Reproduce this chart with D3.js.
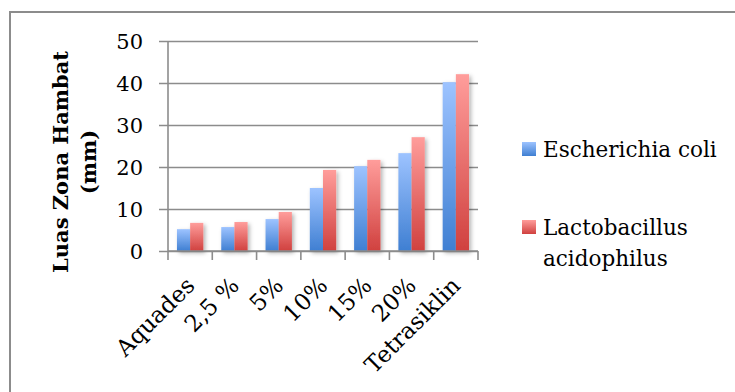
<!DOCTYPE html>
<html>
<head>
<meta charset="utf-8">
<script src="https://cdn.jsdelivr.net/npm/d3@7"></script>
<style>
  html, body { margin: 0; padding: 0; background: #fff; }
  svg { display: block; }
  text { font-family: "DejaVu Serif", serif; fill: #000; }
</style>
</head>
<body>
<svg id="chart" width="735" height="392"></svg>
<script>
// Data
const categories = ["Aquades", "2,5 %", "5%", "10%", "15%", "20%", "Tetrasiklin"];
const seriesNames = ["Escherichia coli", "Lactobacillus acidophilus"];
const ecoli = [5.2, 5.7, 7.6, 15.0, 20.2, 23.3, 40.2];
const lacto = [6.7, 6.9, 9.3, 19.3, 21.7, 27.1, 42.1];
const yTicks = [0, 10, 20, 30, 40, 50];
const yTitle = ["Luas Zona Hambat", "(mm)"];

const svg = d3.select("#chart");
const W = 735, H = 392;

// Outer chart border
svg.append("rect")
  .attr("x", 10).attr("y", 12)
  .attr("width", W + 10).attr("height", H + 10)
  .attr("fill", "#fff").attr("stroke", "#8c8c8c").attr("stroke-width", 2);

const plot = { left: 168, right: 478, top: 41, bottom: 251 };

const x = d3.scaleBand().domain(categories)
  .range([plot.left, plot.right]).paddingInner(0).paddingOuter(0);
const xs = d3.scaleBand().domain(seriesNames)
  .range([0, x.bandwidth()]).paddingInner(0).paddingOuter(0.68);
const y = d3.scaleLinear().domain([0, 50]).range([plot.bottom, plot.top]);

const defs = svg.append("defs");
function grad(id, top, bottom) {
  const g = defs.append("linearGradient").attr("id", id)
    .attr("x1", 0).attr("y1", 0).attr("x2", 0).attr("y2", 1);
  g.append("stop").attr("offset", "0%").attr("stop-color", top);
  g.append("stop").attr("offset", "100%").attr("stop-color", bottom);
}
grad("gBlue", "#9dc3ff", "#3f7fd2");
grad("gRed", "#ff9d9b", "#d0413f");
const shadow = defs.append("filter").attr("id", "shadow")
  .attr("x", "-50%").attr("y", "-20%").attr("width", "200%").attr("height", "150%");
shadow.append("feDropShadow").attr("dx", 2).attr("dy", 2)
  .attr("stdDeviation", 2).attr("flood-color", "#000").attr("flood-opacity", 0.3);

// Gridlines and value axis
const yAxis = svg.append("g")
  .attr("transform", `translate(${plot.left},0)`)
  .call(d3.axisLeft(y).tickValues(yTicks).tickSize(-(plot.right - plot.left)).tickSizeOuter(0).tickPadding(25));
yAxis.select(".domain").remove();
yAxis.selectAll(".tick line")
  .attr("x1", -9).attr("stroke", "#8c8c8c").attr("stroke-width", 1.6);
yAxis.selectAll(".tick text")
  .style("font-family", "DejaVu Serif").attr("font-size", 21).attr("fill", "#000")
  .attr("dy", "0.36em");
svg.append("line")
  .attr("x1", plot.left).attr("x2", plot.left)
  .attr("y1", plot.top).attr("y2", plot.bottom)
  .attr("stroke", "#8c8c8c").attr("stroke-width", 1.6);

// Bars
const seriesData = [
  { name: seriesNames[0], values: ecoli, fill: "url(#gBlue)" },
  { name: seriesNames[1], values: lacto, fill: "url(#gRed)" }
];
const barG = svg.append("g").attr("filter", "url(#shadow)");
seriesData.forEach(s => {
  barG.selectAll(null).data(s.values).enter().append("rect")
    .attr("x", (d, i) => x(categories[i]) + xs(s.name))
    .attr("y", d => y(d))
    .attr("width", xs.bandwidth())
    .attr("height", d => y(0) - y(d))
    .attr("fill", s.fill);
});

// Category axis line with boundary ticks
svg.append("line")
  .attr("x1", plot.left).attr("x2", plot.right)
  .attr("y1", y(0)).attr("y2", y(0))
  .attr("stroke", "#8c8c8c").attr("stroke-width", 1.6);
const bounds = categories.map(c => x(c)).concat([x.range()[1]]);
svg.selectAll(null).data(bounds).enter().append("line")
  .attr("x1", d => d).attr("x2", d => d)
  .attr("y1", y(0)).attr("y2", y(0) + 9)
  .attr("stroke", "#8c8c8c").attr("stroke-width", 1.6);

// Rotated category labels
svg.selectAll(null).data(categories).enter().append("text")
  .attr("transform", d => `translate(${x(d) + x.bandwidth() / 2 + 6},${y(0) + 36}) rotate(-45)`)
  .attr("text-anchor", "end")
  .attr("font-size", 23)
  .text(d => d);

// Value axis title
const title = svg.append("text")
  .attr("transform", `translate(68,${(plot.top + plot.bottom) / 2 + 16}) rotate(-90)`)
  .attr("text-anchor", "middle")
  .attr("font-size", 21).attr("font-weight", "bold");
title.append("tspan").attr("x", 0).attr("y", 0).text(yTitle[0]);
title.append("tspan").attr("x", 0).attr("y", 28).text(yTitle[1]);

// Legend
const legendY = [142, 220];
const legendLines = [["Escherichia coli"], ["Lactobacillus", "acidophilus"]];
seriesData.forEach((s, i) => {
  svg.append("rect")
    .attr("x", 522).attr("y", legendY[i])
    .attr("width", 14).attr("height", 14)
    .attr("fill", s.fill);
  const t = svg.append("text").attr("font-size", 21.5);
  legendLines[i].forEach((line, j) => {
    t.append("tspan").attr("x", 543).attr("y", legendY[i] + 15 + j * 31).text(line);
  });
});
</script>
</body>
</html>
